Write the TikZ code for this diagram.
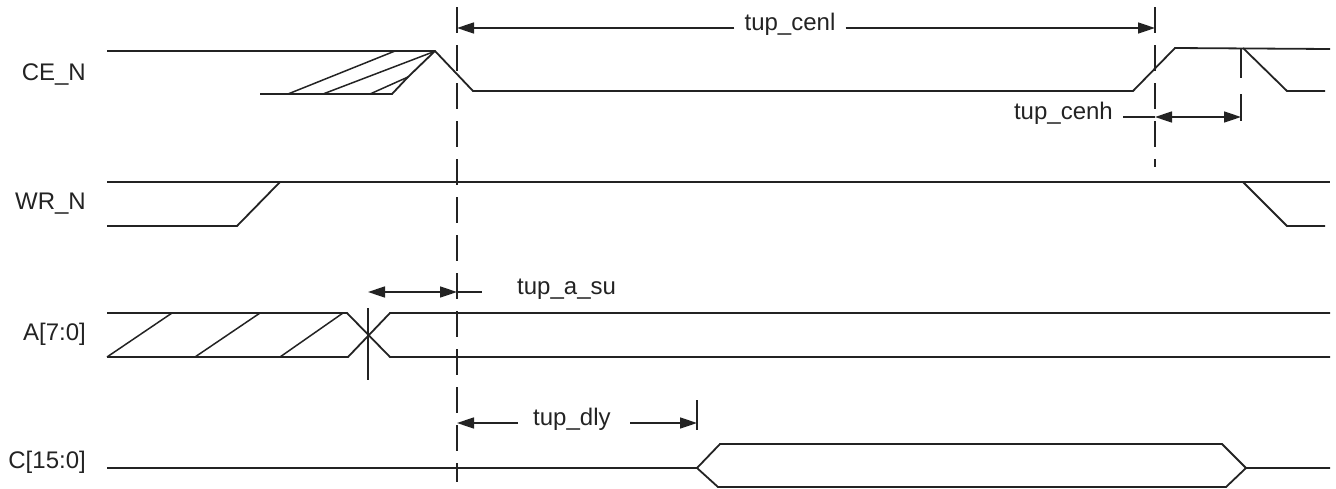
\documentclass[tikz,border=0pt]{standalone}
\usepackage{fontspec}
\setmainfont{Liberation Sans}
\usetikzlibrary{arrows.meta}
\definecolor{ink}{RGB}{35,35,35}
\begin{document}
\begin{tikzpicture}[x=1pt,y=-1pt,
  sig/.style={line width=1.8pt, draw=ink, line join=miter},
  hatchln/.style={line width=1.5pt, draw=ink},
  vmark/.style={line width=1.6pt, draw=ink},
  vdash/.style={vmark, dash pattern=on 26pt off 12pt},
  dimln/.style={line width=1.6pt, draw=ink},
  onehead/.style={dimln, -{Triangle[length=17pt,width=11pt]}},
  twohead/.style={dimln, {Triangle[length=17pt,width=11pt]}-{Triangle[length=17pt,width=11pt]}},
  lbl/.style={font=\fontsize{24}{28}\selectfont, text=ink, inner sep=0pt},
  dimlbl/.style={lbl, inner xsep=10pt, inner ysep=0pt, anchor=mid}]
\useasboundingbox (0,0) rectangle (1336,488);

% signal names
\node[lbl, anchor=base east] (ce) at (86,80) {CE\_N};
\node[lbl, anchor=base east] (wr) at (86,209) {WR\_N};
\node[lbl, anchor=base east] (addr) at (86,340) {A[7:0]};
\node[lbl, anchor=base east] (cdat) at (86,468) {C[15:0]};

% CE_N
\draw[sig] (107,51) -- (435,51) -- (473,91) -- (1133,91) -- (1175,48) -- (1330,49);
\draw[sig] (1243,48) -- (1287,91) -- (1325,91);
\draw[sig] (260,94) -- (392,94) -- (408,77) -- (435,51);
\draw[hatchln] (288,94) -- (395,51);
\draw[hatchln] (323,94) -- (433,52);
\draw[hatchln] (370,94) -- (408,77);

% WR_N
\draw[sig] (107,182) -- (1330,182);
\draw[sig] (107,226) -- (237,226) -- (280,182);
\draw[sig] (1243,182) -- (1287,226) -- (1325,226);

% A[7:0]
\draw[sig] (107,313) -- (347,313) -- (390,357) -- (1330,357);
\draw[sig] (107,357) -- (348,357) -- (390,313) -- (1330,313);
\draw[hatchln] (107,357) -- (172,313);
\draw[hatchln] (195,357) -- (260,313);
\draw[hatchln] (280,357) -- (343,313);

% C[15:0]
\draw[sig] (107,468) -- (697,468) -- (720,444) -- (1222,444) -- (1246,468) -- (1330,468);
\draw[sig] (697,468) -- (718,487) -- (1226,487) -- (1246,468);

% reference marks
\coordinate (ref1t) at (457,7);
\coordinate (ref1b) at (457,482);
\coordinate (ref2t) at (1155,7);
\coordinate (ref2b) at (1155,167);
\draw[vdash] (ref1t) -- (ref1b);
\draw[vdash] (ref2t) -- (ref2b);
\coordinate (ax1) at (368,308);
\coordinate (ax2) at (368,380);
\draw[vmark] (ax1) -- (ax2);
\coordinate (cv1) at (697,400);
\coordinate (cv2) at (697,430);
\draw[vmark] (cv1) -- (cv2);
\coordinate (hv1) at (1241,48);
\coordinate (hv2) at (1241,78);
\coordinate (hv3) at (1241,94);
\coordinate (hv4) at (1241,121);
\draw[vmark] (hv1) -- (hv2);
\draw[vmark] (hv3) -- (hv4);

% tup_cenl
\node[dimlbl] (tcenl) at (790,28) {tup\_cenl};
\coordinate (cenlL) at (457,28);
\coordinate (cenlR) at (1155,28);
\draw[onehead] (tcenl.mid west) -- (cenlL);
\draw[onehead] (tcenl.mid east) -- (cenlR);

% tup_cenh
\node[dimlbl, anchor=mid east] (tcenh) at (1123,117) {tup\_cenh};
\coordinate (cenhL) at (1155,117);
\coordinate (cenhR) at (1241,117);
\draw[dimln] (tcenh.mid east) -- (cenhL);
\draw[twohead] (cenhL) -- (cenhR);

% tup_a_su
\node[lbl, anchor=mid west] (tasu) at (517,292) {tup\_a\_su};
\coordinate (asuL) at (368,292);
\coordinate (asuR) at (457,292);
\coordinate (asuE) at (482,292);
\draw[twohead] (asuL) -- (asuR);
\draw[dimln] (asuR) -- (asuE);

% tup_dly
\node[lbl, anchor=mid west] (tdly) at (533,423) {tup\_dly};
\coordinate (dlyL) at (457,423);
\coordinate (dlyR) at (697,423);
\coordinate (dlyA) at (518,423);
\coordinate (dlyB) at (630,423);
\draw[onehead] (dlyA) -- (dlyL);
\draw[onehead] (dlyB) -- (dlyR);
\end{tikzpicture}
\end{document}
